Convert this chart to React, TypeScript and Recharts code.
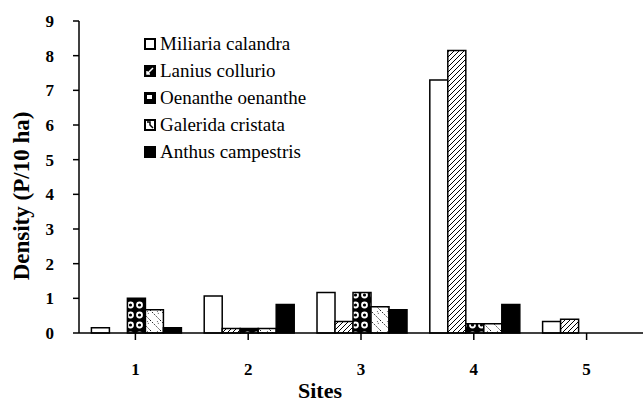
import { BarChart, Bar, XAxis, YAxis } from 'recharts';

// densities (P/10 ha)
const sites = ['1', '2', '3', '4', '5'];
const miliaria = [0.15, 1.07, 1.17, 7.3, 0.33];
const lanius = [0, 0.13, 0.33, 8.15, 0.4];
const oenanthe = [1.0, 0.13, 1.17, 0.27, 0];
const galerida = [0.67, 0.13, 0.76, 0.27, 0];
const anthus = [0.15, 0.82, 0.67, 0.82, 0];
const yTicks = [0, 1, 2, 3, 4, 5, 6, 7, 8, 9];

const speciesNames = ['Miliaria calandra', 'Lanius collurio', 'Oenanthe oenanthe', 'Galerida cristata', 'Anthus campestris'];
const speciesKeys = ['miliaria', 'lanius', 'oenanthe', 'galerida', 'anthus'];
const speciesFills = ['#ffffff', 'url(#hatch)', 'url(#rings)', 'url(#dots)', '#000000'];

const data = sites.map((s, i) => ({
  site: s,
  miliaria: miliaria[i],
  lanius: lanius[i],
  oenanthe: oenanthe[i],
  galerida: galerida[i],
  anthus: anthus[i],
}));

const font = "'Liberation Serif', 'Times New Roman', serif";

function LegendIcon({ idx }: { idx: number }) {
  return (
    <svg width={12} height={12} style={{ marginRight: 4, flex: 'none' }}>
      {idx === 0 && <rect x={1} y={1} width={10} height={10} fill="#fff" stroke="#000" strokeWidth={2} />}
      {idx === 1 && (
        <g>
          <rect x={0} y={0} width={12} height={12} fill="#000" />
          <path d="M3,9 L9,3 M3,6 L3,9 L6,9" stroke="#fff" strokeWidth={1.5} fill="none" />
        </g>
      )}
      {idx === 2 && (
        <g>
          <rect x={0} y={0} width={12} height={12} fill="#000" />
          <rect x={3} y={3} width={5} height={4} fill="#fff" />
        </g>
      )}
      {idx === 3 && (
        <g>
          <rect x={1} y={1} width={10} height={10} fill="#fff" stroke="#000" strokeWidth={2} />
          <path d="M3,3 L6,3 L6,6 L9,9" stroke="#000" strokeWidth={1.5} fill="none" />
        </g>
      )}
      {idx === 4 && <rect x={0} y={0} width={12} height={12} fill="#000" />}
    </svg>
  );
}

export default function App() {
  return (
    <div style={{ position: 'absolute', left: 0, top: 0, width: 643, height: 401, background: '#fff' }}>
      <BarChart
        width={643}
        height={401}
        data={data}
        margin={{ top: 21, right: 0, left: 0, bottom: 0 }}
        barCategoryGap="11%"
        barGap={0}
      >
        <defs>
          <pattern id="hatch" patternUnits="userSpaceOnUse" width={5} height={5}>
            <rect width={5} height={5} fill="#fff" />
            <path d="M-1,1 L1,-1 M0,5 L5,0 M4,6 L6,4" stroke="#000" strokeWidth={1} />
          </pattern>
          <pattern id="rings" patternUnits="userSpaceOnUse" width={9} height={10}>
            <rect width={9} height={10} fill="#000" />
            <circle cx={4.5} cy={5} r={3.4} fill="#fff" />
            <circle cx={4.5} cy={5} r={1.6} fill="#000" />
          </pattern>
          <pattern id="dots" patternUnits="userSpaceOnUse" width={10} height={10}>
            <rect width={10} height={10} fill="#fff" />
            <path d="M0,0 L10,10" stroke="#000" strokeWidth={0.9} strokeDasharray="1.5 1.5" />
            <path d="M7,1 Q9,3 8,5" stroke="#000" strokeWidth={0.8} fill="none" strokeDasharray="1 1.2" />
          </pattern>
        </defs>
        <XAxis
          dataKey="site"
          height={68}
          axisLine={{ stroke: '#000', strokeWidth: 1.5 }}
          tickLine={{ stroke: '#000', strokeWidth: 1.5 }}
          tickSize={7}
          tickMargin={23}
          tick={{ fill: '#000', fontFamily: font, fontSize: 17, fontWeight: 'bold' }}
          label={{
            content: () => (
              <text x={320} y={390} textAnchor="middle" dominantBaseline="central" fontFamily={font} fontSize={22} fontWeight="bold" fill="#000">
                Sites
              </text>
            ),
          }}
        />
        <YAxis
          width={79}
          domain={[0, 9]}
          ticks={yTicks}
          interval={0}
          axisLine={{ stroke: '#000', strokeWidth: 1.5 }}
          tickLine={{ stroke: '#000', strokeWidth: 1.5 }}
          tickSize={6}
          tickMargin={19}
          tick={{ fill: '#000', fontFamily: font, fontSize: 17, fontWeight: 'bold' }}
          label={{
            content: () => (
              <text x={21} y={196} transform="rotate(-90 21 196)" textAnchor="middle" dominantBaseline="central" fontFamily={font} fontSize={23} fontWeight="bold" fill="#000">
                Density (P/10 ha)
              </text>
            ),
          }}
        />
        {speciesKeys.map((k, i) => (
          <Bar
            key={k}
            dataKey={k}
            name={speciesNames[i]}
            fill={speciesFills[i]}
            stroke="#000"
            strokeWidth={1.5}
            isAnimationActive={false}
          />
        ))}
      </BarChart>
      <div style={{ position: 'absolute', left: 144, top: 30, fontFamily: font, fontSize: 19, color: '#000', lineHeight: '27px' }}>
        {speciesNames.map((n, i) => (
          <div key={n} style={{ display: 'flex', alignItems: 'center', height: 27 }}>
            <LegendIcon idx={i} />
            <span>{n}</span>
          </div>
        ))}
      </div>
    </div>
  );
}
